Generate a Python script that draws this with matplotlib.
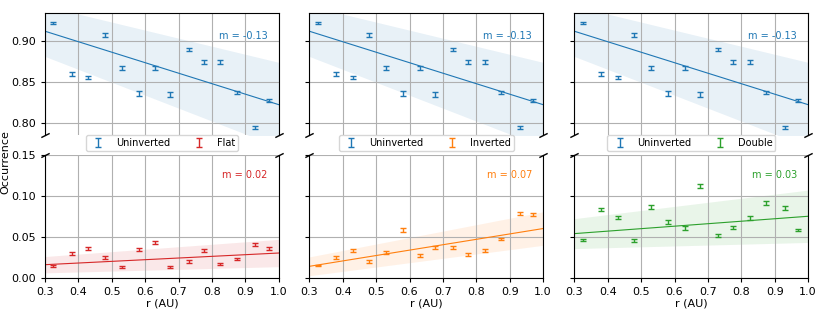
import numpy as np
import matplotlib
matplotlib.use("Agg")
import matplotlib.pyplot as plt

# ---- data ----
r = [0.325, 0.38, 0.43, 0.48, 0.53, 0.58, 0.63, 0.675, 0.73, 0.775, 0.825, 0.875, 0.93, 0.97]

unin = [0.9228, 0.860, 0.8557, 0.908, 0.8675, 0.836, 0.8675, 0.835, 0.8898, 0.875, 0.875, 0.8374, 0.794, 0.8272]
unin_err = [0.0012, 0.0020, 0.0020, 0.0020, 0.0022, 0.0028, 0.0025, 0.0030, 0.0020, 0.0022, 0.0022, 0.0022, 0.0022, 0.0018]

flat = [0.0147, 0.0298, 0.0355, 0.0245, 0.013, 0.035, 0.0428, 0.013, 0.0196, 0.033, 0.0167, 0.0228, 0.0404, 0.0355]
flat_err = [0.0012, 0.0015, 0.0018, 0.0015, 0.0012, 0.0018, 0.0020, 0.0012, 0.0015, 0.0018, 0.0012, 0.0015, 0.0018, 0.0015]

inv = [0.0147, 0.0249, 0.0338, 0.020, 0.0306, 0.0583, 0.0269, 0.0371, 0.0367, 0.0281, 0.0334, 0.0473, 0.0787, 0.077]
inv_err = [0.0010, 0.0015, 0.0018, 0.0015, 0.0018, 0.0025, 0.0018, 0.0018, 0.0018, 0.0018, 0.0015, 0.0018, 0.0020, 0.0018]

dbl = [0.046, 0.0832, 0.0734, 0.0453, 0.0869, 0.0681, 0.0604, 0.1122, 0.0518, 0.0616, 0.0726, 0.0910, 0.0853, 0.0584]
dbl_err = [0.0010, 0.0020, 0.0022, 0.0018, 0.0025, 0.0022, 0.0025, 0.0028, 0.0022, 0.0022, 0.0025, 0.0025, 0.0022, 0.0015]

# linear fits: slope, intercept, band half-width at r=0.3 and r=1.0
unin_fit = (-0.129, 0.9513, 0.031, 0.052)
lower_series = [
    ("Flat", flat, flat_err, (0.0204, 0.00978, 0.010, 0.0167), "#d62728"),
    ("Inverted", inv, inv_err, (0.066, -0.0059, 0.0115, 0.0205), "#ff7f0e"),
    ("Double", dbl, dbl_err, (0.0303, 0.0448, 0.0183, 0.032), "#2ca02c"),
]
unin_color = "#1f77b4"

xticks = [0.3, 0.4, 0.5, 0.6, 0.7, 0.8, 0.9, 1.0]
top_yticks = [0.80, 0.85, 0.90]
bot_yticks = [0.00, 0.05, 0.10, 0.15]

# ---- figure ----
W, H = 830, 324
fig = plt.figure(figsize=(W / 100, H / 100), dpi=100)

lefts = [45, 309.3, 574.3]
pw = 233.8
top_ax_box = (13, 135)
bot_ax_box = (155, 277.7)

xx = np.linspace(0.3, 1.0, 100)


def draw(ax, y, yerr, fit, color, label):
    m, b, w0, w1 = fit
    line = m * xx + b
    w = w0 + (w1 - w0) * (xx - 0.3) / 0.7
    ax.fill_between(xx, line - w, line + w, color=color, alpha=0.1, lw=0)
    ax.plot(xx, line, color=color, lw=0.8)
    eb = ax.errorbar(r, y, yerr=yerr, fmt="none", ecolor=color, elinewidth=1.0,
                     capsize=2, capthick=1.0, label=label)
    return eb


for i, (lname, ly, lerr, lfit, lcol) in enumerate(lower_series):
    x0 = lefts[i] / W
    wfrac = pw / W
    axt = fig.add_axes([x0, 1 - top_ax_box[1] / H, wfrac, (top_ax_box[1] - top_ax_box[0]) / H])
    axb = fig.add_axes([x0, 1 - bot_ax_box[1] / H, wfrac, (bot_ax_box[1] - bot_ax_box[0]) / H])

    eb1 = draw(axt, unin, unin_err, unin_fit, unin_color, "Uninverted")
    eb2 = draw(axb, ly, lerr, lfit, lcol, lname)

    for ax in (axt, axb):
        ax.set_xlim(0.3, 1.0)
        ax.set_xticks(xticks)
        ax.grid(True, color="#b0b0b0", lw=0.8)
        ax.tick_params(labelsize=8, length=3, width=0.8)
        for s in ax.spines.values():
            s.set_linewidth(0.8)
    axt.set_ylim(0.785, 0.935)
    axt.set_yticks(top_yticks)
    axb.set_ylim(0.0, 0.15)
    axb.set_yticks(bot_yticks)

    axt.spines["bottom"].set_visible(False)
    axb.spines["top"].set_visible(False)
    axt.tick_params(bottom=False, labelbottom=False)
    if i > 0:
        axt.tick_params(labelleft=False)
        axb.tick_params(labelleft=False)
    else:
        axt.yaxis.set_major_formatter(matplotlib.ticker.FormatStrFormatter("%.2f"))
        axb.yaxis.set_major_formatter(matplotlib.ticker.FormatStrFormatter("%.2f"))
    axb.xaxis.set_major_formatter(matplotlib.ticker.FormatStrFormatter("%.1f"))
    axb.set_xlabel("r (AU)", fontsize=8, labelpad=1)

    # break marks
    d = 0.5
    kw = dict(marker=[(-1, -d), (1, d)], markersize=6, linestyle="none",
              color="k", mec="k", mew=1, clip_on=False)
    axt.plot([0, 1], [0, 0], transform=axt.transAxes, **kw)
    axb.plot([0, 1], [1, 1], transform=axb.transAxes, **kw)

    axt.text(0.953, 0.81, f"m = {unin_fit[0]:.2f}", transform=axt.transAxes,
             ha="right", va="center", fontsize=7, color=unin_color)
    axb.text(0.953, 0.84, f"m = {lfit[0]:.2f}", transform=axb.transAxes,
             ha="right", va="center", fontsize=7, color=lcol)

    axt.legend(handles=[eb1, eb2], loc="upper center", bbox_to_anchor=(0.5, 0.0),
               ncol=2, fontsize=7, borderaxespad=0.0, framealpha=0.8,
               handlelength=2.0, columnspacing=2.0, borderpad=0.3)

fig.text(0.0065, 0.5, "Occurrence", rotation=90, ha="center", va="center", fontsize=8)

fig.savefig("out.png", dpi=100)
